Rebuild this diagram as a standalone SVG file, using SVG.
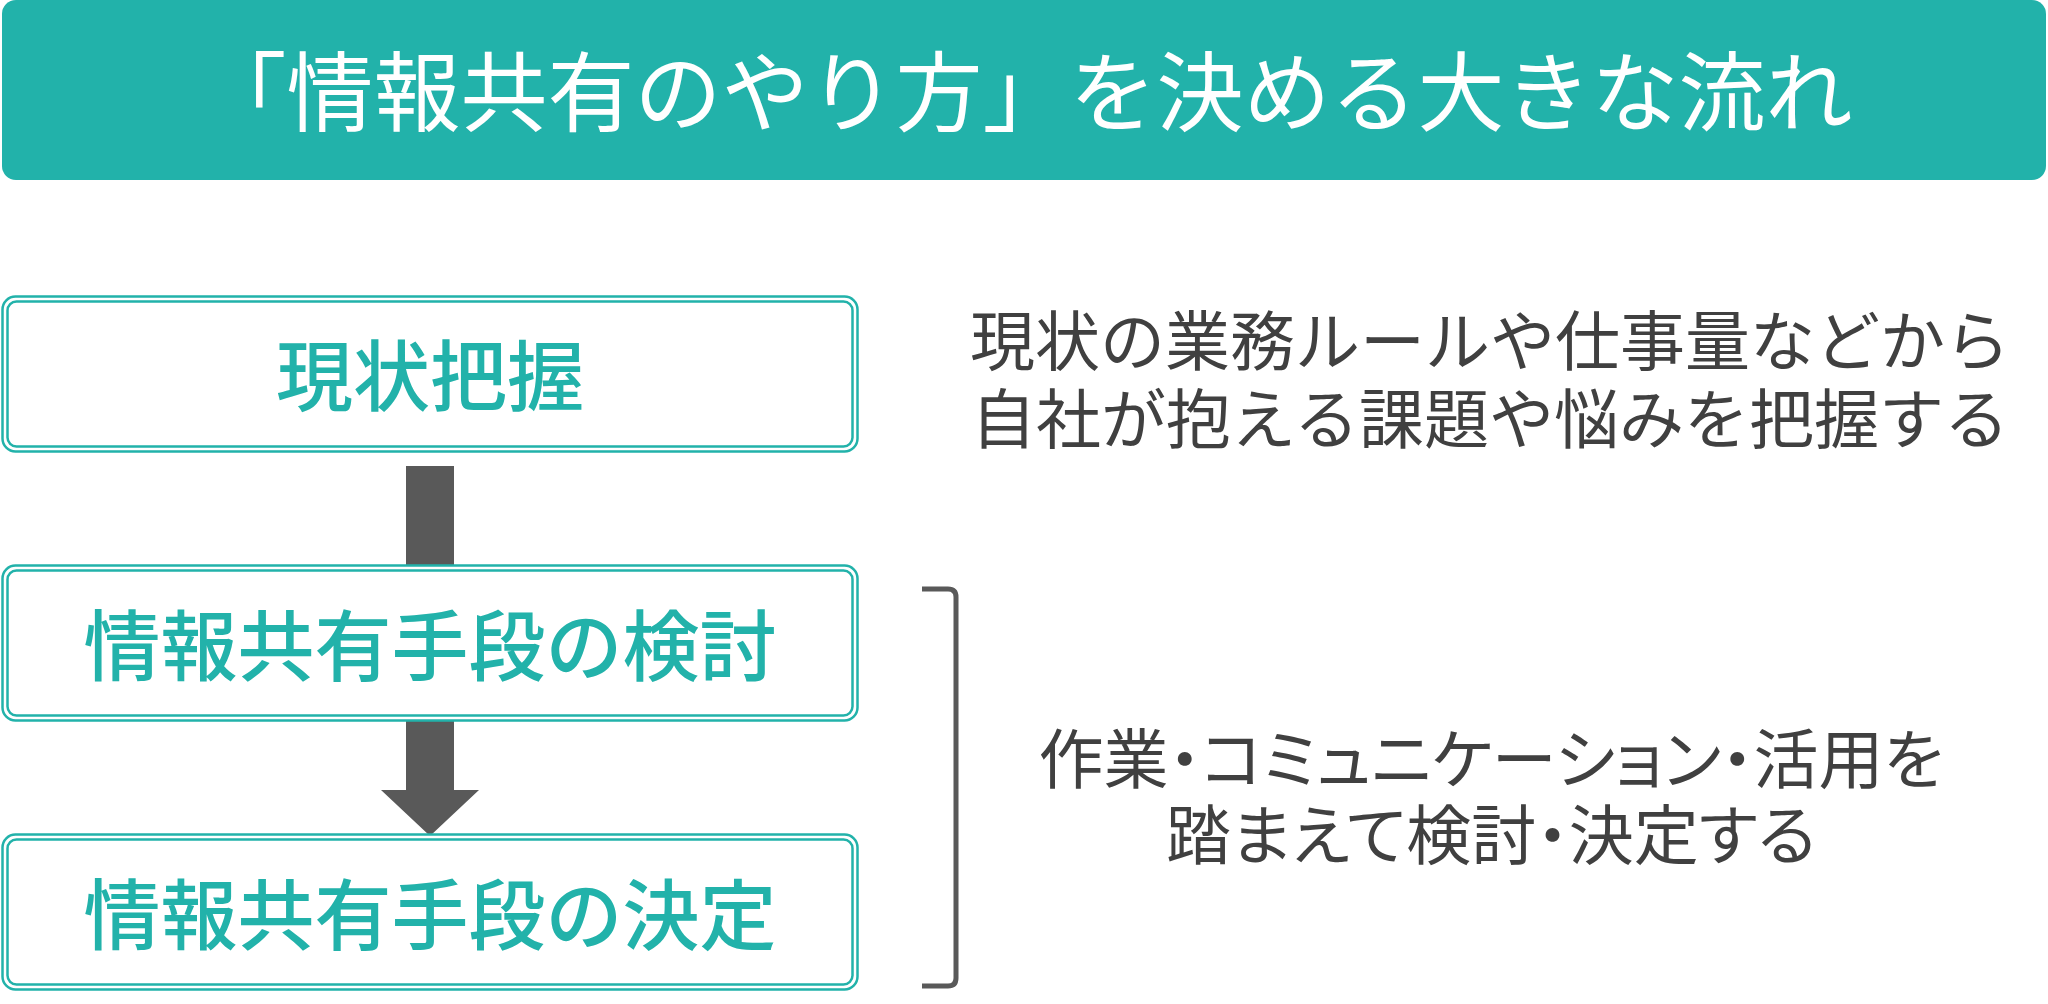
<svg xmlns="http://www.w3.org/2000/svg" width="2048" height="1004" viewBox="0 0 2048 1004">
<style>
.title{font-family:"Noto Sans CJK JP","Noto Sans",sans-serif;font-size:87px;fill:#ffffff;text-anchor:middle}
.box-o{fill:#ffffff;stroke:#22b2aa;stroke-width:2.5}
.box-i{fill:none;stroke:#22b2aa;stroke-width:2.5}
.lbl{font-family:"Noto Sans CJK JP","Noto Sans",sans-serif;font-size:77px;fill:#22b2aa;text-anchor:middle;font-weight:500}
.desc{font-family:"Noto Sans CJK JP","Noto Sans",sans-serif;font-size:65px;fill:#404040;text-anchor:middle}
.palt{font-feature-settings:"palt"}
.arrow{fill:#595959}
</style>
<rect width="2048" height="1004" fill="#ffffff"/>
<g id="title">
<rect x="2" y="0" width="2044" height="180" rx="14" fill="#22b2aa"/>
<text class="title" x="1026" y="125">「情報共有のやり方」を決める大きな流れ</text>
</g>
<g id="connectors">
<rect class="arrow" x="406" y="466" width="48" height="101"/>
<path class="arrow" d="M406 718 H454 V790 H479 L430 836 L381 790 H406 Z"/>
</g>
<g id="node1">
<rect class="box-o" x="2.5" y="296.5" width="855" height="155" rx="13"/>
<rect class="box-i" x="7.5" y="301.5" width="845" height="145" rx="9"/>
<text class="lbl" x="430" y="405">現状把握</text>
</g>
<g id="node2">
<rect class="box-o" x="2.5" y="565.5" width="855" height="155" rx="13"/>
<rect class="box-i" x="7.5" y="570.5" width="845" height="145" rx="9"/>
<text class="lbl" x="430" y="675">情報共有手段の検討</text>
</g>
<g id="node3">
<rect class="box-o" x="2.5" y="834.5" width="855" height="155" rx="13"/>
<rect class="box-i" x="7.5" y="839.5" width="845" height="145" rx="9"/>
<text class="lbl" x="430" y="944">情報共有手段の決定</text>
</g>
<g id="bracket">
<path d="M922 589 H948 Q956 589 956 597 V978 Q956 986 948 986 H922" fill="none" stroke="#595959" stroke-width="5"/>
</g>
<g id="desc1">
<text class="desc" x="1490" y="365">現状の業務ルールや仕事量などから</text>
<text class="desc" x="1490" y="443">自社が抱える課題や悩みを把握する</text>
</g>
<g id="desc2">
<text class="desc palt" x="1491" y="783">作業・コミュニケーション・活用を</text>
<text class="desc palt" x="1491" y="859">踏まえて検討・決定する</text>
</g>
</svg>
